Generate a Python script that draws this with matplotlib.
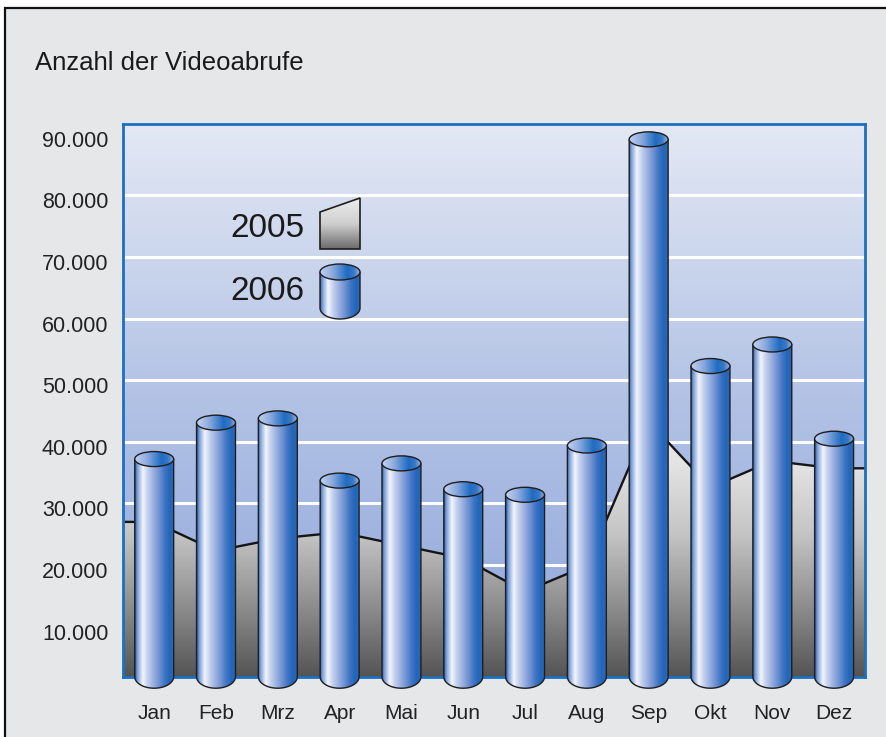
import numpy as np
import matplotlib
matplotlib.use("Agg")
import matplotlib.pyplot as plt
from matplotlib.path import Path
from matplotlib.patches import PathPatch, Ellipse, Rectangle, Polygon
from matplotlib.colors import LinearSegmentedColormap
from matplotlib.transforms import ScaledTranslation

plt.rcParams['font.family'] = ['Liberation Sans', 'DejaVu Sans']
NARROW = ['Liberation Sans Narrow', 'Liberation Sans', 'DejaVu Sans']

# data
months = ["Jan", "Feb", "Mrz", "Apr", "Mai", "Jun", "Jul", "Aug", "Sep", "Okt", "Nov", "Dez"]
views_2005 = [27000, 22300, 24300, 25300, 23200, 21100, 15700, 19900, 43300, 32600, 36900, 35700]
views_2006 = [37200, 43100, 43800, 33700, 36500, 32300, 31400, 39400, 89100, 52300, 55800, 40500]
yticks = [10000, 20000, 30000, 40000, 50000, 60000, 70000, 80000, 90000]
ytick_labels = ["10.000", "20.000", "30.000", "40.000", "50.000", "60.000", "70.000", "80.000", "90.000"]
grid_vals = [10000, 20000, 30000, 40000, 50000, 60000, 70000, 80000]
title = "Anzahl der Videoabrufe"
legend_years = ["2005", "2006"]

W, H = 887, 737
fig = plt.figure(figsize=(W / 100, H / 100), dpi=100)
fig.patch.set_facecolor('white')
# grey panel with black frame (right/bottom run off the picture)
fig.patches.append(Rectangle((5 / W, -0.1), 1.2, 1.1 - 8 / H, transform=fig.transFigure,
                             facecolor='#e6e7e9', edgecolor='#111111', lw=1.6, zorder=-10))

ax_l, ax_r, ax_t, ax_b = 123.3, 865.0, 124.3, 676.7
ax = fig.add_axes([ax_l / W, (H - ax_b) / H, (ax_r - ax_l) / W, (ax_b - ax_t) / H])
ymin, ymax = 1870, 91540
xmin, xmax = -0.5, len(months) - 0.5
per_px = (ymax - ymin) / (ax_b - ax_t)   # data units per pixel (vertical)

# plot background gradient
bg_cmap = LinearSegmentedColormap.from_list('bg', ['#8fa6da', '#b2c2e5', '#e3e8f4'])
grad = np.linspace(0, 1, 256).reshape(-1, 1)
ax.imshow(grad, extent=[xmin, xmax, ymin, ymax], origin='lower', cmap=bg_cmap,
          aspect='auto', zorder=0)
ax.hlines(grid_vals, xmin, xmax, colors='white', lw=2.2, zorder=0.5)

# 2005 area with grey gradient
xs = np.r_[xmin, np.arange(len(months)), xmax]
ys = np.r_[views_2005[0], views_2005, views_2005[-1]]
area = Polygon(np.c_[np.r_[xs, xmax, xmin], np.r_[ys, 0, 0]], closed=True,
               facecolor='none', edgecolor='none', zorder=1)
ax.add_patch(area)
area_cmap = LinearSegmentedColormap.from_list('area', ['#545454', '#8e8e8e', '#c4c4c4', '#e4e4e4', '#eeeeee'])
im = ax.imshow(grad, extent=[xmin, xmax, ymin, 48000], origin='lower', cmap=area_cmap,
               aspect='auto', zorder=1)
im.set_clip_path(area)
ax.plot(xs, ys, color='#151515', lw=1.7, zorder=1.5, solid_joinstyle='miter')

# 2006 cylinders
cyl_cmap = LinearSegmentedColormap.from_list('cyl', [
    (0, '#2b5ea8'), (0.06, '#7c9fd8'), (0.2, '#f2f5fc'), (0.33, '#c3d0ee'),
    (0.55, '#86a0da'), (0.78, '#3b72c2'), (0.9, '#1f66ba'), (1.0, '#3567b0')])
top_cmap = LinearSegmentedColormap.from_list('top', [
    (0, '#c2d2f0'), (0.3, '#90acdf'), (0.68, '#1e6cc2'), (0.85, '#3a78c6'), (1, '#9ab4e2')])
hgrad = np.linspace(0, 1, 256).reshape(1, -1)


def cylinder(axis, xc, hw, top, base, depth, th, z=3):
    t = np.linspace(np.pi, 2 * np.pi, 40)
    verts = [(xc - hw, top), (xc - hw, base)]
    verts += list(zip(xc + hw * np.cos(t), base + depth * np.sin(t)))
    verts += [(xc + hw, top), (xc - hw, top)]
    body = PathPatch(Path(verts, closed=True), facecolor='none', edgecolor='#1e1e1e',
                     lw=1.0, zorder=z + 0.1, clip_on=False)
    axis.add_patch(body)
    lo, hi = sorted([base - depth, top])
    bim = axis.imshow(hgrad, extent=[xc - hw, xc + hw, lo, hi], cmap=cyl_cmap,
                      aspect='auto', zorder=z)
    bim.set_clip_box(fig.bbox)
    bim.set_clip_path(body)
    cap = Ellipse((xc, top), 2 * hw, 2 * th, facecolor='none', edgecolor='#1e1e1e',
                  lw=1.0, zorder=z + 0.3, clip_on=False)
    axis.add_patch(cap)
    lo, hi = sorted([top - th, top + th])
    tim = axis.imshow(hgrad, extent=[xc - hw, xc + hw, lo, hi], cmap=top_cmap,
                      aspect='auto', zorder=z + 0.2)
    tim.set_clip_box(fig.bbox)
    tim.set_clip_path(cap)


for i, v in enumerate(views_2006):
    cylinder(ax, i, 0.315, v, ymin, ymin, 7.5 * per_px)

ax.set_xlim(xmin, xmax)
ax.set_ylim(ymin, ymax)
for s in ax.spines.values():
    s.set_color('#1c6fc1')
    s.set_linewidth(2)
    s.set_zorder(2.5)

ax.set_xticks(range(len(months)), months, fontfamily=NARROW, fontsize=15, color='#222222')
ax.tick_params(axis='x', length=0, pad=19.5)
ax.set_yticks(yticks, ytick_labels, fontsize=15.5, color='#222222')
ax.tick_params(axis='y', length=0, pad=10.8)
for lab in ax.get_yticklabels():
    lab.set_transform(lab.get_transform() + ScaledTranslation(0, -0.05, fig.dpi_scale_trans))

fig.text(35 / W, 1 - 70 / H, title, fontfamily=NARROW, fontsize=18.5, color='#1a1a1a',
         va='baseline', ha='left')

# legend drawn in pixel coordinates
lax = fig.add_axes([0, 0, 1, 1], zorder=5)
lax.set_xlim(0, W)
lax.set_ylim(H, 0)
lax.axis('off')
icon = Polygon([(320, 212), (360, 198), (360, 249), (320, 249)], closed=True,
               facecolor='none', edgecolor='#1e1e1e', lw=1.2, zorder=2)
lax.add_patch(icon)
leg_cmap = LinearSegmentedColormap.from_list('leg', ['#ededed', '#cfcfcf', '#6a6a6a'])
gim = lax.imshow(np.linspace(0, 1, 256).reshape(-1, 1), extent=[320, 360, 249, 198],
                 cmap=leg_cmap, aspect='auto', zorder=1)
gim.set_clip_path(icon)
cylinder(lax, 340, 20, 272, 308, -11, 8, z=1)
lax.set_xlim(0, W)
lax.set_ylim(H, 0)
lax.text(305, 237, legend_years[0], ha='right', va='baseline', fontsize=24, color='#1a1a1a')
lax.text(305, 300, legend_years[1], ha='right', va='baseline', fontsize=24, color='#1a1a1a')

fig.savefig("out.png", dpi=100)
